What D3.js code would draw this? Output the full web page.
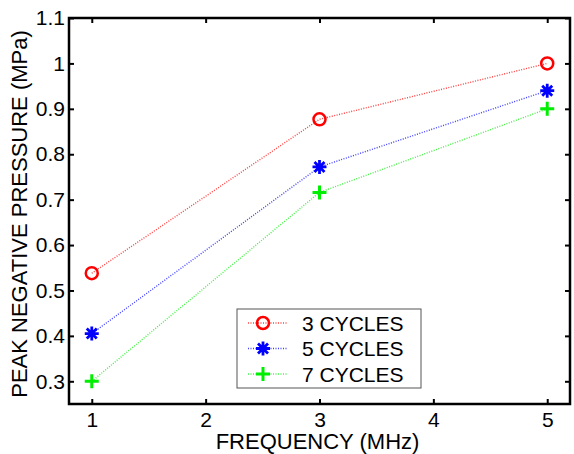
<!DOCTYPE html>
<html>
<head>
<meta charset="utf-8">
<script src="https://cdn.jsdelivr.net/npm/d3@7"></script>
<style>
  body { margin: 0; background: #fff; }
  svg { display: block; font-family: "Liberation Sans", Arial, sans-serif; }
</style>
</head>
<body>
<svg id="chart"></svg>
<script>
var frequencies = [1, 3, 5]
var cycles3 = [0.538, 0.877, 1.0]
var cycles5 = [0.405, 0.772, 0.940]
var cycles7 = [0.300, 0.716, 0.900]
var seriesNames = ["3 CYCLES", "5 CYCLES", "7 CYCLES"]
var xTicks = [1, 2, 3, 4, 5]
var yTicks = [0.3, 0.4, 0.5, 0.6, 0.7, 0.8, 0.9, 1, 1.1]

var dimensions = {
    width: 574,
    height: 454,
    margin: { top: 18, bottom: 50, right: 4, left: 69 }
}

var svg = d3.select("#chart")
    .attr("width", dimensions.width)
    .attr("height", dimensions.height)

var xScale = d3.scaleLinear()
    .domain([0.8, 5.2])
    .range([dimensions.margin.left, dimensions.width - dimensions.margin.right])

var yScale = d3.scaleLinear()
    .domain([0.25, 1.1])
    .range([dimensions.height - dimensions.margin.bottom, dimensions.margin.top])

var x0 = xScale.range()[0], x1 = xScale.range()[1]
var y0 = yScale.range()[0], y1 = yScale.range()[1]

// axes, ticks pointing inward like matlab
var bottomAxis = d3.axisBottom(xScale).tickValues(xTicks).tickSize(-5).tickPadding(8).tickFormat(d3.format("d"))
var topAxis = d3.axisTop(xScale).tickValues(xTicks).tickSize(-5).tickFormat("")
var leftAxis = d3.axisLeft(yScale).tickValues(yTicks).tickSize(-5).tickPadding(4).tickFormat(d => d3.format("")(+d.toFixed(1)))
var rightAxis = d3.axisRight(yScale).tickValues(yTicks).tickSize(-5).tickFormat("")

function styleAxis(g) {
    g.select(".domain").remove()
    g.selectAll(".tick line").attr("stroke", "#000").attr("stroke-width", 2)
    g.selectAll(".tick text").attr("fill", "#000").attr("font-size", "21px")
        .attr("font-family", "Liberation Sans, Arial, sans-serif")
}

svg.append("g").attr("transform", "translate(0," + y0 + ")").call(bottomAxis).call(styleAxis)
svg.append("g").attr("transform", "translate(0," + y1 + ")").call(topAxis).call(styleAxis)
svg.append("g").attr("transform", "translate(" + x0 + ",0)").call(leftAxis).call(styleAxis)
svg.append("g").attr("transform", "translate(" + x1 + ",0)").call(rightAxis).call(styleAxis)

svg.append("rect")
    .attr("x", x0).attr("y", y1)
    .attr("width", x1 - x0).attr("height", y0 - y1)
    .attr("fill", "none").attr("stroke", "#000").attr("stroke-width", 2.5)

svg.append("text")
    .attr("x", (x0 + x1) / 2 - 2)
    .attr("y", 449)
    .attr("text-anchor", "middle")
    .attr("font-size", "22px")
    .text("FREQUENCY (MHz)")

svg.append("text")
    .attr("transform", "translate(27," + ((y0 + y1) / 2 + 3) + ") rotate(-90)")
    .attr("text-anchor", "middle")
    .attr("font-size", "22px")
    .text("PEAK NEGATIVE PRESSURE (MPa)")

var series = [
    { name: seriesNames[0], values: cycles3, color: "#ff0000", marker: "circle" },
    { name: seriesNames[1], values: cycles5, color: "#0000ff", marker: "star" },
    { name: seriesNames[2], values: cycles7, color: "#00ee00", marker: "plus" }
]

function drawMarker(g, type, color) {
    if (type === "circle") {
        g.append("circle").attr("r", 6).attr("fill", "none")
            .attr("stroke", color).attr("stroke-width", 2.5)
    } else if (type === "star") {
        g.append("path")
            .attr("d", "M-7,0H7M0,-7V7M-5,-5L5,5M-5,5L5,-5")
            .attr("stroke", color).attr("stroke-width", 2.8)
    } else {
        g.append("path")
            .attr("d", "M-7,0H7M0,-7V7")
            .attr("stroke", color).attr("stroke-width", 3)
    }
}

var line = d3.line()
    .x((d, i) => xScale(frequencies[i]))
    .y(d => yScale(d))

series.forEach(function (s) {
    svg.append("path")
        .datum(s.values)
        .attr("d", line)
        .attr("fill", "none")
        .attr("stroke", s.color)
        .attr("stroke-opacity", 0.75)
        .attr("stroke-width", 1.4)
        .attr("stroke-dasharray", "1,1.5")

    s.values.forEach(function (v, i) {
        var g = svg.append("g")
            .attr("transform", "translate(" + xScale(frequencies[i]) + "," + yScale(v) + ")")
        drawMarker(g, s.marker, s.color)
    })
})

// legend
var legend = svg.append("g").attr("transform", "translate(237,309)")
legend.append("rect")
    .attr("width", 184).attr("height", 79)
    .attr("fill", "#fff").attr("stroke", "#555").attr("stroke-width", 1)

series.forEach(function (s, i) {
    var cy = 14 + i * 25.5
    legend.append("line")
        .attr("x1", 11).attr("x2", 51).attr("y1", cy).attr("y2", cy)
        .attr("stroke", s.color).attr("stroke-opacity", 0.75)
        .attr("stroke-width", 1.4).attr("stroke-dasharray", "1,1.5")
    drawMarker(legend.append("g").attr("transform", "translate(26," + cy + ")"), s.marker, s.color)
    legend.append("text")
        .attr("x", 65).attr("y", cy + 7.5)
        .attr("font-size", "21px")
        .text(s.name)
})
</script>
</body>
</html>
